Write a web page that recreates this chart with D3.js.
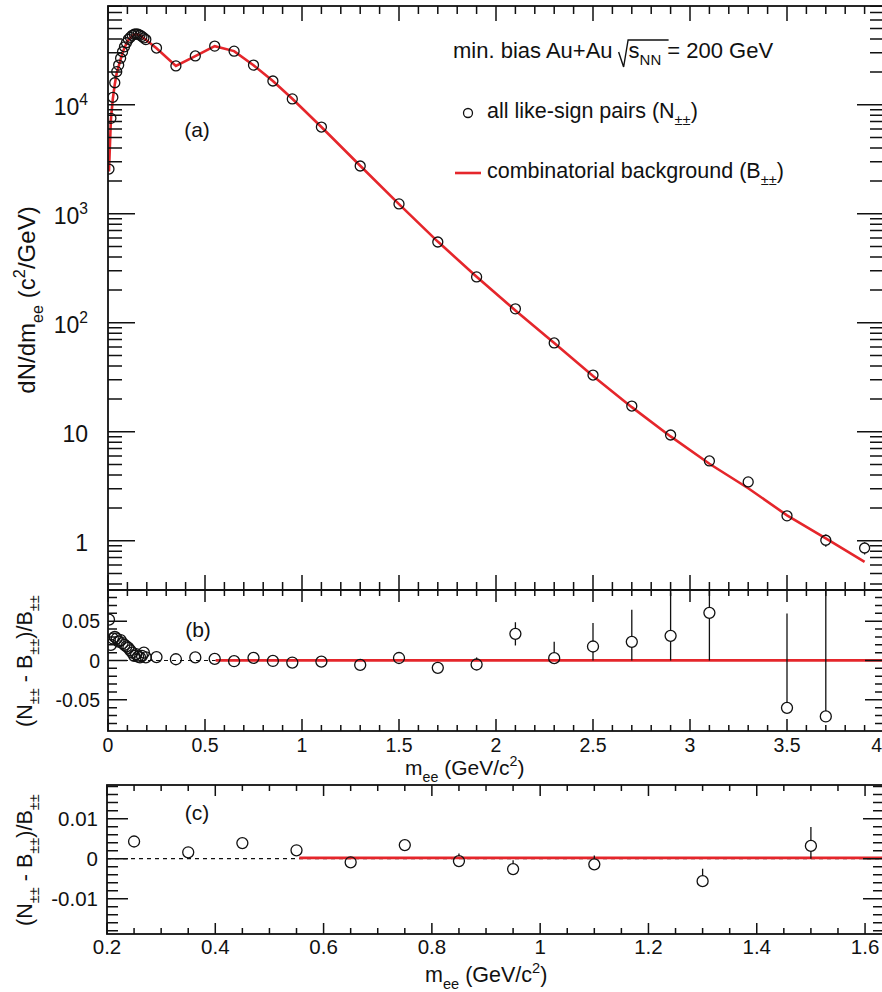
<!DOCTYPE html>
<html>
<head>
<meta charset="utf-8">
<script src="https://cdn.jsdelivr.net/npm/d3@7"></script>
<style>
  body { margin: 0; background: #fff; }
  text { font-family: "Liberation Sans", Arial, Helvetica, sans-serif; fill: #111; }
</style>
</head>
<body>
<svg id="chart" width="882" height="992"></svg>
<script>
// ---- data ---------------------------------------------------------------
// pair-mass bin centres (GeV/c^2)
const mass = [0.005, 0.015, 0.025, 0.035, 0.045, 0.055, 0.065, 0.075, 0.085, 0.095,
              0.105, 0.115, 0.125, 0.135, 0.145, 0.155, 0.165, 0.175, 0.185, 0.195,
              0.25, 0.35, 0.45, 0.55, 0.65, 0.75, 0.85, 0.95, 1.1, 1.3,
              1.5, 1.7, 1.9, 2.1, 2.3, 2.5, 2.7, 2.9, 3.1, 3.3, 3.5, 3.7, 3.9];
// all like-sign pairs N++ (dN/dm, c^2/GeV)
const likeSign = [2570, 7500, 11700, 15900, 20100, 23100, 26700, 30600, 34000, 37000,
                  39800, 41500, 43300, 44300, 44600, 44300, 43500, 42300, 41000, 39600,
                  33100, 22700, 28000, 34500, 31000, 23100, 16500, 11300, 6240, 2740,
                  1230, 550, 263, 134, 65.2, 33.1, 17.2, 9.33, 5.39, 3.46, 1.69, 1.01, 0.857];
const likeSignErr = [0, 0, 0, 0, 0, 0, 0, 0, 0, 0,
                     0, 0, 0, 0, 0, 0, 0, 0, 0, 0,
                     0, 0, 0, 0, 0, 0, 0, 0, 0, 0,
                     0, 0, 0, 0, 0, 0, 0, 0, 0.2, 0.25, 0.15, 0.13, 0.11];
// combinatorial background B++
const background = [2443, 7353, 11381, 15437, 19553, 22559, 26023, 29941, 33333, 36346,
                    39173, 40967, 42871, 44036, 44246, 44080, 43327, 42048, 40594, 39442,
                    32962, 22660, 27891, 34424, 31030, 23022, 16510, 11329, 6248, 2755,
                    1226, 555, 264, 129.6, 65.0, 32.5, 16.8, 9.05, 5.08, 3.03, 1.71, 1.05, 0.64];
// relative difference (N++ - B++)/B++ and its uncertainty (null: outside the frame)
const ratio = [0.052, 0.020, 0.028, 0.030, 0.028, 0.024, 0.026, 0.022, 0.020, 0.018,
               0.016, 0.013, 0.010, 0.006, 0.008, 0.005, 0.004, 0.006, 0.010, 0.004,
               0.0043, 0.0016, 0.0039, 0.0021, -0.0009, 0.0034, -0.0006, -0.0026, -0.0014, -0.0056,
               0.0032, -0.0093, -0.0051, 0.0339, 0.0030, 0.0178, 0.0237, 0.0314, 0.0606, null,
               -0.0602, -0.0712, null];
const ratioErr = [0.002, 0.002, 0.002, 0.002, 0.002, 0.002, 0.002, 0.002, 0.002, 0.002,
                  0.002, 0.002, 0.002, 0.002, 0.002, 0.002, 0.002, 0.002, 0.002, 0.002,
                  0.0005, 0.0005, 0.0006, 0.0006, 0.0007, 0.0008, 0.0019, 0.0022, 0.0022, 0.0031,
                  0.0047, 0.006, 0.009, 0.0148, 0.021, 0.030, 0.041, 0.055, 0.075, 0,
                  0.12, 0.17, 0];
// constant fitted to the relative difference above 0.55 GeV/c^2
const fitStart = 0.555;
const fitLevel = 0.0002;

// axis tick values
const logMajor = [1, 10, 100, 1000, 10000];
const logMajorLabels = [["1"], ["10"], ["10", "2"], ["10", "3"], ["10", "4"]];
const massTicks = [0, 0.5, 1, 1.5, 2, 2.5, 3, 3.5, 4];
const massTickLabels = ["0", "0.5", "1", "1.5", "2", "2.5", "3", "3.5", "4"];
const ratioTicksB = [-0.05, 0, 0.05];
const ratioTickLabelsB = ["-0.05", "0", "0.05"];
const massTicksC = [0.2, 0.4, 0.6, 0.8, 1.0, 1.2, 1.4, 1.6];
const massTickLabelsC = ["0.2", "0.4", "0.6", "0.8", "1", "1.2", "1.4", "1.6"];
const ratioTicksC = [-0.01, 0, 0.01];
const ratioTickLabelsC = ["-0.01", "0", "0.01"];

// ---- layout -------------------------------------------------------------
const RED = "#e5262b";
const svg = d3.select("#chart");

const xAB = d3.scaleLinear().domain([0, 4]).range([108, 884]);
const yA = d3.scaleLog().domain([0.353, 80460]).range([590, 6]);
const yB = d3.scaleLinear().domain([-0.0897, 0.0897]).range([731, 590]);
const xC = d3.scaleLinear().domain([0.2, 1.635]).range([107, 884]);
const yC = d3.scaleLinear().domain([-0.0188, 0.0184]).range([934, 785]);

const rows = mass.map((m, i) => ({
  m, n: likeSign[i], nErr: likeSignErr[i], b: background[i], r: ratio[i], rErr: ratioErr[i]
}));

// text with sub/superscript parts
function rich(sel, parts, size) {
  let shift = 0;
  parts.forEach(p => {
    const ts = sel.append("tspan").text(p.t);
    let target = 0;
    if (p.sub) { target = size * 0.32; ts.attr("font-size", size * 0.68); }
    else if (p.sup) { target = -size * 0.42; ts.attr("font-size", size * 0.68); }
    if (target !== shift) ts.attr("dy", target - shift);
    shift = target;
  });
  return sel;
}

function clip(id, x, y, w, h) {
  svg.append("clipPath").attr("id", id).append("rect")
    .attr("x", x).attr("y", y).attr("width", w).attr("height", h);
}

// inward ticks on all four sides of a frame
function ticks(g, opt) {
  const { x, y, xMajor, xMinor, yMajor, yMinor, xLen, yLen } = opt;
  const [x0, x1] = x.range();
  const [y0, y1] = y.range(); // y0 bottom, y1 top
  const path = [];
  xMinor.forEach(v => { const px = x(v); path.push(`M${px},${y0}v${-xLen[1]}M${px},${y1}v${xLen[1]}`); });
  xMajor.forEach(v => { const px = x(v); path.push(`M${px},${y0}v${-xLen[0]}M${px},${y1}v${xLen[0]}`); });
  yMinor.forEach(v => { const py = y(v); path.push(`M${x0},${py}h${yLen[1]}M${x1},${py}h${-yLen[1]}`); });
  yMajor.forEach(v => { const py = y(v); path.push(`M${x0},${py}h${yLen[0]}M${x1},${py}h${-yLen[0]}`); });
  g.append("path").attr("d", path.join("")).attr("stroke", "#111").attr("stroke-width", 1.5).attr("fill", "none");
  g.append("rect").attr("x", x0).attr("y", y1).attr("width", x1 - x0).attr("height", y0 - y1)
    .attr("fill", "none").attr("stroke", "#111").attr("stroke-width", 1.8);
}

// open circles with error bars drawn outside the marker
function markers(g, data, x, y, val, err, rad, clipId) {
  const gg = g.append("g").attr("clip-path", `url(#${clipId})`);
  data.forEach(d => {
    const cx = x(d.m), cy = y(val(d));
    const e = err(d);
    if (e > 0) {
      const top = y(val(d) + e), bot = y(Math.max(val(d) - e, 1e-9));
      if (cy - top > rad) gg.append("line").attr("x1", cx).attr("x2", cx).attr("y1", top).attr("y2", cy - rad)
        .attr("stroke", "#111").attr("stroke-width", 1.3);
      if (bot - cy > rad) gg.append("line").attr("x1", cx).attr("x2", cx).attr("y1", cy + rad).attr("y2", bot)
        .attr("stroke", "#111").attr("stroke-width", 1.3);
    }
    gg.append("circle").attr("cx", cx).attr("cy", cy).attr("r", rad)
      .attr("fill", "none").attr("stroke", "#111").attr("stroke-width", 1.3);
  });
}

function range(a, b, step) {
  const out = [];
  for (let i = 0; a + i * step <= b + 1e-9; i++) out.push(+(a + i * step).toFixed(6));
  return out;
}

clip("clipA", 108, 6, 776, 584);
clip("clipB", 108, 590, 776, 141);
clip("clipC", 107, 785, 777, 149);

// ---- panel (a) ----------------------------------------------------------
const gA = svg.append("g");
const logMinor = yA.ticks().filter(v => !logMajor.includes(v));
gA.append("path")
  .datum(rows)
  .attr("clip-path", "url(#clipA)")
  .attr("fill", "none").attr("stroke", RED).attr("stroke-width", 2.6)
  .attr("d", d3.line().x(d => xAB(d.m)).y(d => yA(d.b)));
markers(gA, rows, xAB, yA, d => d.n, d => d.nErr, 5, "clipA");
ticks(gA, {
  x: xAB, y: yA,
  xMajor: massTicks, xMinor: range(0, 4, 0.1),
  yMajor: logMajor, yMinor: logMinor,
  xLen: [15, 8], yLen: [27, 14]
});
logMajor.forEach((v, i) => {
  const t = gA.append("text").attr("x", 88).attr("y", yA(v) + 10).attr("text-anchor", "end").attr("font-size", 23);
  const lab = logMajorLabels[i];
  rich(t, lab.length > 1 ? [{ t: lab[0] }, { t: lab[1], sup: true }] : [{ t: lab[0] }], 23);
});
rich(gA.append("text").attr("transform", "translate(35,300) rotate(-90)").attr("text-anchor", "middle").attr("font-size", 24),
  [{ t: "dN/dm" }, { t: "ee", sub: true }, { t: " (c" }, { t: "2", sup: true }, { t: "/GeV)" }], 24);
gA.append("text").attr("x", 197).attr("y", 137).attr("text-anchor", "middle").attr("font-size", 21).text("(a)");

// legend
const leg = svg.append("g");
const t1 = leg.append("text").attr("x", 453).attr("y", 58).attr("font-size", 22).text("min. bias Au+Au");
const w1 = t1.node().getComputedTextLength();
const rx = 453 + w1 + 6;
leg.append("path").attr("d", `M${rx},52L${rx + 5},67L${rx + 9.5},40H${rx + 50}`)
  .attr("fill", "none").attr("stroke", "#111").attr("stroke-width", 1.4);
rich(leg.append("text").attr("x", rx + 10).attr("y", 58).attr("font-size", 22),
  [{ t: "s" }, { t: "NN", sub: true }, { t: " = 200 GeV" }], 22);
leg.append("circle").attr("cx", 468).attr("cy", 113).attr("r", 4.5).attr("fill", "none").attr("stroke", "#111").attr("stroke-width", 1.3);
rich(leg.append("text").attr("x", 487).attr("y", 118).attr("font-size", 21.5),
  [{ t: "all like-sign pairs (N" }, { t: "±±", sub: true }, { t: ")" }], 21.5);
leg.append("line").attr("x1", 455).attr("x2", 481).attr("y1", 173).attr("y2", 173).attr("stroke", RED).attr("stroke-width", 2.6);
rich(leg.append("text").attr("x", 487).attr("y", 178).attr("font-size", 21.5),
  [{ t: "combinatorial background (B" }, { t: "±±", sub: true }, { t: ")" }], 21.5);

// ---- panel (b) ----------------------------------------------------------
const gB = svg.append("g");
gB.append("line").attr("clip-path", "url(#clipB)")
  .attr("x1", xAB(0)).attr("x2", xAB(fitStart)).attr("y1", yB(0)).attr("y2", yB(0))
  .attr("stroke", "#111").attr("stroke-width", 1.2).attr("stroke-dasharray", "4,4");
gB.append("line").attr("clip-path", "url(#clipB)")
  .attr("x1", xAB(fitStart)).attr("x2", xAB(4)).attr("y1", yB(fitLevel)).attr("y2", yB(fitLevel))
  .attr("stroke", RED).attr("stroke-width", 2.6);
markers(gB, rows.filter(d => d.r !== null), xAB, yB, d => d.r, d => d.rErr, 5.5, "clipB");
ticks(gB, {
  x: xAB, y: yB,
  xMajor: massTicks, xMinor: range(0, 4, 0.1),
  yMajor: ratioTicksB, yMinor: range(-0.08, 0.08, 0.01),
  xLen: [12, 6], yLen: [19, 9]
});
ratioTicksB.forEach((v, i) => gB.append("text").attr("x", 100).attr("y", yB(v) + 7)
  .attr("text-anchor", "end").attr("font-size", 19.5).text(ratioTickLabelsB[i]));
massTicks.forEach((v, i) => {
  const last = i === massTicks.length - 1;
  gB.append("text").attr("x", last ? 882 : xAB(v)).attr("y", 752)
    .attr("text-anchor", last ? "end" : "middle").attr("font-size", 19.5).text(massTickLabels[i]);
});
rich(gB.append("text").attr("x", 405).attr("y", 775).attr("font-size", 21),
  [{ t: "m" }, { t: "ee", sub: true }, { t: " (GeV/c" }, { t: "2", sup: true }, { t: ")" }], 21);
rich(gB.append("text").attr("transform", "translate(32,661) rotate(-90)").attr("text-anchor", "middle").attr("font-size", 21.5),
  [{ t: "(N" }, { t: "±±", sub: true }, { t: " - B" }, { t: "±±", sub: true }, { t: ")/B" }, { t: "±±", sub: true }], 21.5);
gB.append("text").attr("x", 198).attr("y", 637).attr("text-anchor", "middle").attr("font-size", 21).text("(b)");

// ---- panel (c) ----------------------------------------------------------
const gC = svg.append("g");
gC.append("line").attr("clip-path", "url(#clipC)")
  .attr("x1", xC(0.2)).attr("x2", xC(1.635)).attr("y1", yC(0)).attr("y2", yC(0))
  .attr("stroke", "#111").attr("stroke-width", 1.2).attr("stroke-dasharray", "4,4");
gC.append("line").attr("clip-path", "url(#clipC)")
  .attr("x1", xC(fitStart)).attr("x2", xC(1.635)).attr("y1", yC(fitLevel)).attr("y2", yC(fitLevel))
  .attr("stroke", RED).attr("stroke-width", 2.8);
markers(gC, rows.filter(d => d.r !== null && d.m > 0.2 && d.m < 1.635), xC, yC, d => d.r, d => d.rErr, 5.5, "clipC");
ticks(gC, {
  x: xC, y: yC,
  xMajor: massTicksC, xMinor: range(0.2, 1.6, 0.05),
  yMajor: ratioTicksC, yMinor: range(-0.018, 0.018, 0.002),
  xLen: [11, 6], yLen: [21, 11]
});
ratioTicksC.forEach((v, i) => gC.append("text").attr("x", 98).attr("y", yC(v) + 7)
  .attr("text-anchor", "end").attr("font-size", 20.5).text(ratioTickLabelsC[i]));
massTicksC.forEach((v, i) => gC.append("text").attr("x", xC(v)).attr("y", 954)
  .attr("text-anchor", "middle").attr("font-size", 20.5).text(massTickLabelsC[i]));
rich(gC.append("text").attr("x", 425).attr("y", 982).attr("font-size", 21.5),
  [{ t: "m" }, { t: "ee", sub: true }, { t: " (GeV/c" }, { t: "2", sup: true }, { t: ")" }], 21.5);
rich(gC.append("text").attr("transform", "translate(32,860) rotate(-90)").attr("text-anchor", "middle").attr("font-size", 21.5),
  [{ t: "(N" }, { t: "±±", sub: true }, { t: " - B" }, { t: "±±", sub: true }, { t: ")/B" }, { t: "±±", sub: true }], 21.5);
gC.append("text").attr("x", 197).attr("y", 820).attr("text-anchor", "middle").attr("font-size", 21).text("(c)");
</script>
</body>
</html>
